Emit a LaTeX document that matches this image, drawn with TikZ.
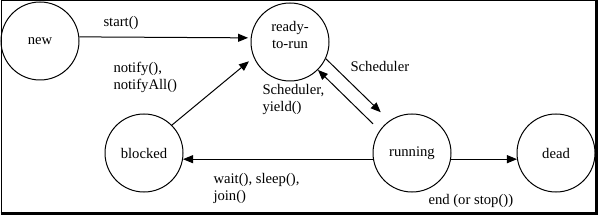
\documentclass[tikz,border=0pt]{standalone}
\usepackage{fontspec}
\setmainfont{Liberation Serif}
\usepackage{tikz}
\usetikzlibrary{
    arrows.meta,
    positioning
}

\begin{document}
\begin{tikzpicture}[
    x=0.75pt,
    y=-0.75pt,
    >={Triangle[length=7.5pt,width=6pt]},
    line width=0.75pt,
    state/.style={
        circle,
        draw=black,
        line width=0.75pt,
        minimum size=58.5pt,
        inner sep=0pt,
        font=\fontsize{11}{12.75}\selectfont,
        align=center
    },
    edgelabel/.style={
        anchor=west,
        inner sep=0pt,
        font=\fontsize{11}{12.75}\selectfont,
        align=left
    }
]

\useasboundingbox (0,0) rectangle (598,217);

% ============================================================
% FRAME
% ============================================================

\draw[line width=0.75pt]
    (1,1) rectangle (596,213);

\draw[line width=2pt]
    (0.5,213.5) -- (596.5,213.5) -- (596.5,0.5);

% ============================================================
% STATES
% ============================================================

\node[state] (new) at (40,41) {new};

\node[
    state,
    label={[align=center, inner sep=0pt,
            font=\fontsize{11}{12.75}\selectfont,
            yshift=5pt]center:ready-\\to-run}
]
    (ready) at (290,42) {};

\node[state] (blocked) at (144,153) {blocked};

\node[state] (running) at (412,153) {running};

\node[state] (dead) at (556,153) {dead};

% ============================================================
% TRANSITIONS
% ============================================================

% new -> ready
\draw[->, shorten >=2pt]
    (new.6) -- (ready.174);

% blocked -> ready
\draw[->, shorten >=4.5pt]
    (blocked.45) -- (ready.203);

% ready -> running
\draw[->, shorten >=9pt]
    (ready.-25) -- (running.125);

% running -> ready
\draw[->, shorten <=7pt]
    (running.145) -- (ready.-45);

% running -> blocked
\draw[->]
    (running.189) -- (blocked.-9);

% running -> dead
\draw[->]
    (running.-9) -- (dead.189);

% ============================================================
% LABELS
% ============================================================

\node[edgelabel] (lblStart) at (103,23) {start()};

\node[edgelabel] (lblNotify) at (113,77)
{
notify(),\\
notifyAll()
};

\node[edgelabel] (lblSched) at (350,66) {Scheduler};

\node[edgelabel] (lblYield) at (262,99)
{
Scheduler,\\
yield()
};

\node[edgelabel] (lblWait) at (213,188)
{
wait(), sleep(),\\
join()
};

\node[edgelabel] (lblEnd) at (428,201) {end (or stop())};

\end{tikzpicture}
\end{document}
